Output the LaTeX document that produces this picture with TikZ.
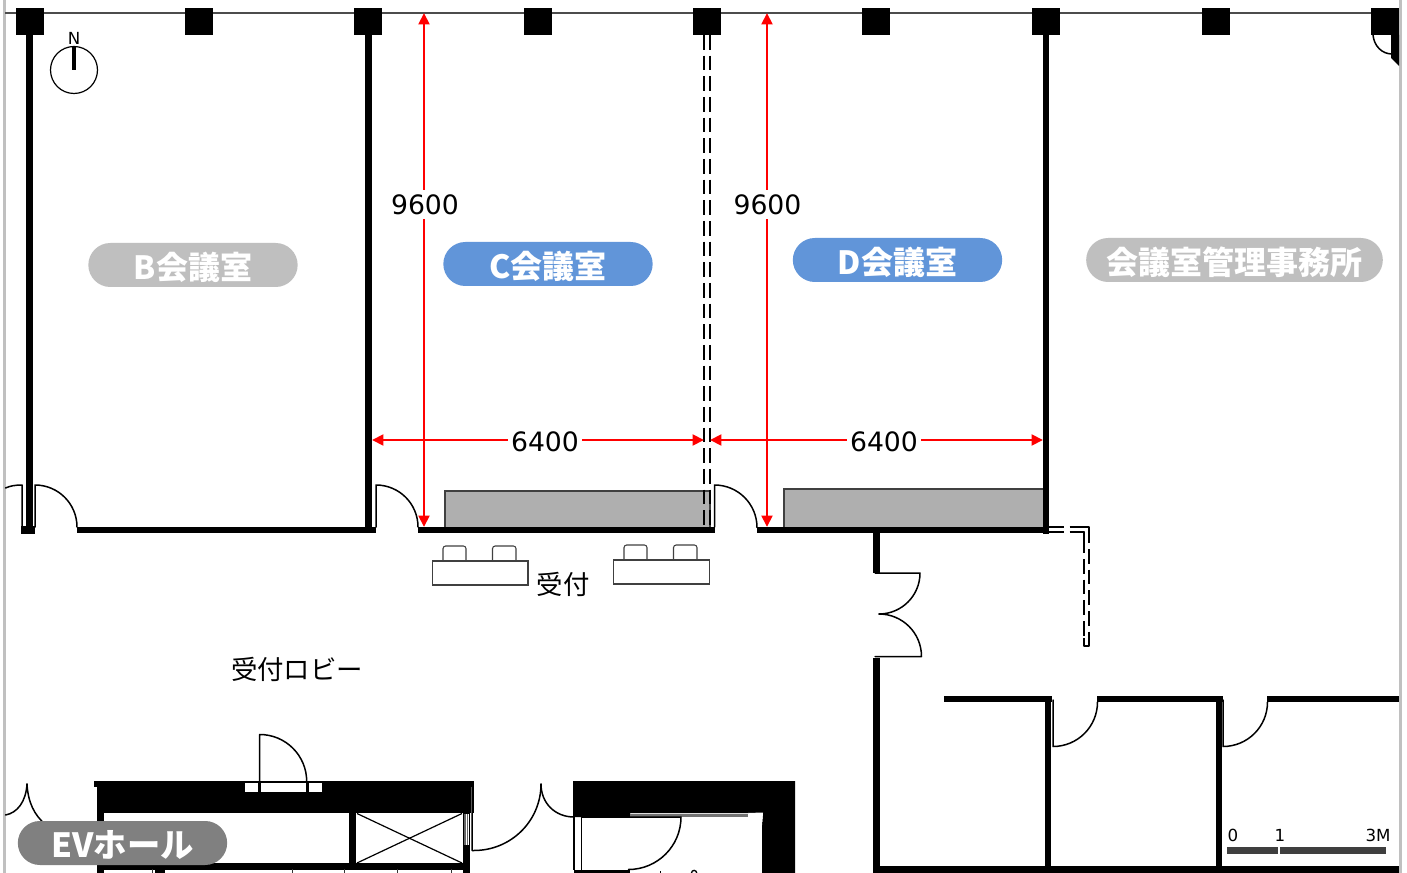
\documentclass[tikz,border=0pt]{standalone}
\usepackage{fontspec}
\setmainfont{DejaVu Sans}
\newfontfamily\cjk{Noto Sans CJK JP}
\usetikzlibrary{arrows.meta}
\definecolor{pillgray}{HTML}{BFBFBF}
\definecolor{pillblue}{HTML}{6195D9}
\definecolor{pilldark}{HTML}{808080}
\definecolor{cabinet}{HTML}{AFAFAF}
\definecolor{barcol}{HTML}{3F3F3F}
\definecolor{edgegray}{HTML}{C0C0C0}
\tikzset{
  wallfill/.style={fill=black,draw=none},
  doorline/.style={draw=black,line width=1.5pt*0.75,line cap=round,line join=round},
  dashline/.style={draw=black,line width=1.6pt,dash pattern=on 11pt off 4.5pt},
  dimline/.style={draw=red,line width=2.1pt,{Triangle[length=8.5pt,width=8pt]}-{Triangle[length=8.5pt,width=8pt]}},
  dimlabel/.style={fill=white,inner xsep=2.5pt,inner ysep=3.5pt,font=\fontsize{20}{24}\selectfont},
  pill/.style={rounded corners=16.5pt,minimum width=157pt,minimum height=33pt,inner sep=0pt,text=white,text height=25pt,text depth=3pt,font=\cjk\bfseries\fontsize{24}{28}\selectfont},
  lobbytext/.style={font=\cjk\fontsize{19.8}{24}\selectfont,inner sep=0pt},
  smalltext/.style={font=\fontsize{12.5}{15}\selectfont,inner sep=0pt},
  cabinetbox/.style={fill=cabinet,draw=black!75,line width=1.2pt*0.75},
  deskbox/.style={fill=white,draw=black!75,line width=0.8pt},
}
\begin{document}
\begin{tikzpicture}[x=0.75pt,y=-0.75pt]
\useasboundingbox (0,0) rectangle (1407,873);
\fill[white] (0,0) rectangle (1407,873);
% outer gray edges and top line
\fill[edgegray] (3,0) rectangle (6,873);
\fill[edgegray] (1399,0) rectangle (1402,873);
\fill[black!70] (5,12) rectangle (1399,14.2);
% columns
\foreach \cx in {16,185,354,524,693,862,1032,1202,1371}
  \fill[wallfill] (\cx,8) rectangle ++(27.5,27);
% top-right corner
\draw[doorline] (1373,35) .. controls (1374,46) and (1382,54) .. (1392,54);
\fill[wallfill] (1391,35) -- (1399,35) -- (1399,66) -- (1391,58) -- cycle;
% north
\draw[black,line width=0.9pt] (74,70) circle[radius=23.5];
\fill[black] (71.7,46.5) rectangle (76.3,70);
\node[smalltext] (north) at (74,38) {N};
% room cabinets (under walls)
\draw[cabinetbox] (445,527) -- (445,491) -- (710,491) -- (710,527);
\fill[cabinet] (445.6,491.6) rectangle (709.4,527);
\draw[cabinetbox] (784,527) -- (784,489) -- (1043,489) -- (1043,527);
\fill[cabinet] (784.6,489.6) rectangle (1043,527);
% walls, upper
\fill[wallfill] (26,35) rectangle (33,534);
\fill[wallfill] (21,526) rectangle (35,534);
\fill[wallfill] (77,527) rectangle (376,533);
\fill[wallfill] (365,35) rectangle (372,533);
\fill[wallfill] (418,527) rectangle (715,533);
\fill[wallfill] (757,527) rectangle (1049,533);
\fill[wallfill] (1043,35) rectangle (1049,534);
% doors of the meeting rooms
\draw[doorline] (22,527) -- (22,485) .. controls (15,485) and (10,486) .. (5.5,488);
\draw[doorline] (35,527) -- (35,485) arc[start angle=-90,end angle=0,radius=42];
\draw[doorline] (376,527) -- (376,485) arc[start angle=-90,end angle=0,radius=42];
\draw[doorline] (714.5,527) -- (714.5,485) arc[start angle=-90,end angle=0,radius=42.5];
% folding partition
\draw[dashline] (704.2,35) -- (704.2,527);
\draw[dashline] (709.8,35) -- (709.8,527);
% dashed screen
\draw[draw=black,line width=1.3pt,dash pattern=on 11pt off 4.5pt,line join=round] (1049,527) -- (1089,527) -- (1089,646);
\draw[draw=black,line width=1.3pt,dash pattern=on 11pt off 4.5pt,line join=round] (1049,532) -- (1084,532) -- (1084,646);
\draw[draw=black,line width=1.3pt,line join=round] (1072,527) -- (1089,527) -- (1089,542);
\draw[draw=black,line width=1.3pt,line join=round] (1070,532) -- (1084,532) -- (1084,547);
\draw[draw=black,line width=1.3pt,line join=round] (1084,638) -- (1084,646) -- (1089,646) -- (1089,638);
% lobby wall and doors
\fill[wallfill] (873,533) rectangle (880,573);
\draw[doorline] (875,573) -- (920,573) arc[start angle=0,end angle=90,radius=41] -- (879,614);
\draw[doorline] (879,614) arc[start angle=-90,end angle=0,radius=42.5] -- (875,656.5);
\fill[wallfill] (873,658) rectangle (880,873);
\fill[wallfill] (873,866) rectangle (1399,873);
\fill[wallfill] (944,696) rectangle (1052,702);
\fill[wallfill] (1097,696) rectangle (1223,702);
\fill[wallfill] (1267,696) rectangle (1399,702);
\fill[wallfill] (1045,696) rectangle (1051,866);
\fill[wallfill] (1215.5,696) rectangle (1222,866);
\draw[doorline] (1053,700) -- (1053,746.5) arc[start angle=90,end angle=0,radius=44.5];
\draw[doorline] (1223,700) -- (1223,746.5) arc[start angle=90,end angle=0,radius=44.5];
% desks
\draw[deskbox] (443,561) -- (443,549) [rounded corners=2pt] -- (443,546) -- (466,546) -- (466,561);
\draw[deskbox] (492.5,561) -- (492.5,549) [rounded corners=2pt] -- (492.5,546) -- (516,546) -- (516,561);
\draw[deskbox] (432.5,561) rectangle (528,585);
\draw[deskbox] (624,560) -- (624,548) [rounded corners=2pt] -- (624,545) -- (647,545) -- (647,560);
\draw[deskbox] (673.5,560) -- (673.5,548) [rounded corners=2pt] -- (673.5,545) -- (697,545) -- (697,560);
\draw[deskbox] (613.5,560) rectangle (709.5,584);
% elevator hall block
\fill[wallfill] (94,781) rectangle (474,813);
\fill[white] (244.5,782.5) rectangle (322,792);
\fill[wallfill] (257.8,782) rectangle (261,792);
\fill[wallfill] (305.5,782) rectangle (308.5,792);
\draw[doorline] (259.7,792) -- (259.7,734.5) arc[start angle=-90,end angle=0,radius=47];
\fill[white] (94.3,787) rectangle (96.5,815);
\fill[wallfill] (97,813) rectangle (104,873);
\fill[wallfill] (349,813) rectangle (356,864);
\fill[wallfill] (463,813) rectangle (470,873);
\fill[wallfill] (97,863) rectangle (470,869.5);
\fill[wallfill] (155,863) rectangle (165,873);
\draw[black,line width=0.9pt] (357,813.5) -- (462,863);
\draw[black,line width=0.9pt] (357,863) -- (462,813.5);
\fill[white] (463.5,814) rectangle (469,845);
\draw[black!60,line width=0.8pt] (465,814) -- (465,845);
\draw[black!60,line width=0.8pt] (467.5,814) -- (467.5,845);
\foreach \lx in {152.5,292,344,397,451}
  \draw[black!80,line width=0.7pt] (\lx,869) -- (\lx,873);
\fill[white] (471,787) rectangle (473,851);
% swinging doors in the hall
\draw[doorline] (5.5,815) .. controls (17,813) and (26,802) .. (27,784);
\draw[doorline] (27,784) .. controls (28,802) and (34,815) .. (46,825);
\draw[doorline] (472,787) -- (472,850.5) -- (474,850.5) .. controls (511,850.5) and (541,821) .. (541,784);
\draw[doorline] (541,784) .. controls (541,803) and (555,817) .. (574,817);
% service block
\fill[wallfill] (573,781) -- (795,781) -- (795,873) -- (762,873) -- (762,825) -- (763,813) -- (630,813) -- (630,817) -- (573,817) -- cycle;
\fill[white] (574.5,817.5) rectangle (581,870);
\draw[black,line width=1pt] (574,817) -- (574,870);
\draw[black,line width=1.1pt] (581.5,817) -- (581.5,870);
\fill[wallfill] (574,869.5) rectangle (630,873);
\fill[black!55] (630,813.5) rectangle (748,816.5);
\fill[white] (748,813) -- (763,812.5) -- (762,825) -- cycle;
\draw[doorline] (582,817) -- (681,817) arc[start angle=0,end angle=90,radius=52.5];
\draw[black,line width=0.7pt] (660,873) -- (660,871);
\draw[black,line width=1pt] (691.5,873) arc[start angle=180,end angle=360,radius=2.6];
% dimensions
\coordinate (c9top) at (424,13);
\coordinate (c9bot) at (424,527);
\coordinate (d9top) at (767,13);
\coordinate (d9bot) at (767,527);
\coordinate (c6l) at (372,440);
\coordinate (c6r) at (704,440);
\coordinate (d6l) at (710,440);
\coordinate (d6r) at (1043,440);
\draw[dimline] (c9top) -- (c9bot);
\draw[dimline] (d9top) -- (d9bot);
\draw[dimline] (c6l) -- (c6r);
\draw[dimline] (d6l) -- (d6r);
\node[dimlabel] (c9) at (425,204.5) {9600};
\node[dimlabel] (d9) at (767.5,204.5) {9600};
\node[dimlabel] (c6) at (545,441.5) {6400};
\node[dimlabel] (d6) at (884,441.5) {6400};
% room labels
\node[pill,fill=pillgray] (roomB) at (193,265) {B会議室};
\node[pill,fill=pillblue] (roomC) at (548,264) {C会議室};
\node[pill,fill=pillblue] (roomD) at (897.5,260) {D会議室};
\node[pill,fill=pillgray,minimum width=222.5pt] (roomM) at (1234.5,260) {会議室管理事務所};
\node[pill,fill=pilldark,font=\cjk\bfseries\fontsize{25}{28}\selectfont] (roomEV) at (122.5,843) {EVホール};
\node[lobbytext] (recv) at (563,584) {受付};
\node[lobbytext] (lobby) at (297,669) {受付ロビー};
% scale bar
\fill[barcol] (1227,846.5) rectangle (1278,854);
\fill[barcol] (1280,846.5) rectangle (1386,854);
\node[smalltext] (s0) at (1233,835.5) {0};
\node[smalltext] (s1) at (1280,835.5) {1};
\node[smalltext] (s3) at (1378,835.5) {3M};
\end{tikzpicture}
\end{document}
